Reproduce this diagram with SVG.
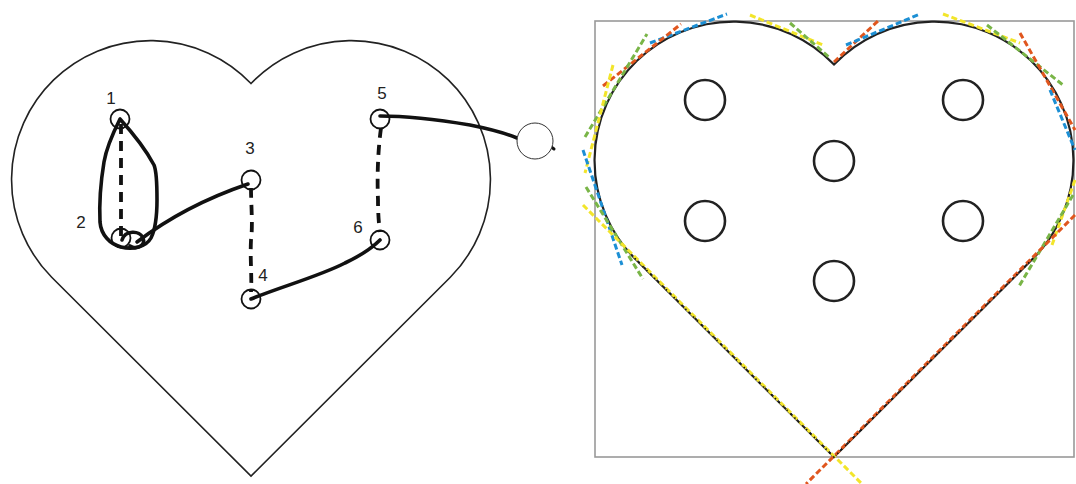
<svg xmlns="http://www.w3.org/2000/svg" width="1076" height="484" viewBox="0 0 1076 484">
<style>
.heart{fill:#fff;stroke:#222;stroke-width:1.6}
.heart2{fill:#fff;stroke:#222;stroke-width:2.2}
.node{fill:none;stroke:#111;stroke-width:1.8}
.bigc{fill:none;stroke:#222;stroke-width:2.6}
.lbl{font-family:"Liberation Sans",Arial,sans-serif;font-size:17px;fill:#222;text-anchor:middle}
.solid{fill:none;stroke:#111;stroke-width:3.6;stroke-linecap:round;stroke-linejoin:round}
.dash{fill:none;stroke:#111;stroke-width:3.8;stroke-dasharray:10 7}
.t{fill:none;stroke-width:3;stroke-dasharray:6 3}
.b{stroke:#1c8fd4}.r{stroke:#e0561e}.g{stroke:#79b547}.y{stroke:#f2e52a}
</style>
<defs>
<path id="heartShape" d="M240 43.5 A139 139 0 1 0 40.7 237.3 L240 436 L439.3 237.3 A139 139 0 1 0 240 43.5 Z"/>
</defs>
<g id="left-heart">
<use href="#heartShape" class="heart" transform="translate(11,40)"/>
</g>
<g id="connectors">
<path class="solid" d="M120,119 C112,135 106,150 104,162 C101,180 99,200 100,222 C101,235 110,244 121,247 C133,250 146,247 151,238 C156,228 157,215 157,200 C157,185 157,172 154,165 C146,150 130,130 120,119 Z"/>
<path class="solid" d="M122,240 C125,230 140,230 143,238 C146,246 136,250 130,246"/>
<path class="solid" d="M137,242 C158,226 195,202 248,184"/>
<path class="solid" d="M251,299 C280,287 320,276 345,263 C362,255 372,248 380,240"/>
<path class="solid" d="M380,116 C410,116 440,120 470,125 C490,129 505,133 517,138"/>
<path class="solid" d="M550,146 L554,149" style="stroke-width:3"/>
<path class="dash" d="M121,124 L121,236"/>
<path class="dash" d="M251,188 C251,205 253,225 251,240 C250,260 252,275 251,292"/>
<path class="dash" d="M381,128 C378,150 377,175 378,200 C378,215 379,225 380,232"/>
</g>
<g id="node1"><circle class="node" cx="120" cy="119" r="9.5"/><text class="lbl" x="111" y="104">1</text></g>
<g id="node2"><circle class="node" cx="121" cy="238" r="9.5"/><text class="lbl" x="81" y="228">2</text></g>
<g id="node3"><circle class="node" cx="251" cy="180" r="9.5"/><text class="lbl" x="250" y="154">3</text></g>
<g id="node4"><circle class="node" cx="251" cy="299" r="9.5"/><text class="lbl" x="263" y="281">4</text></g>
<g id="node5"><circle class="node" cx="380" cy="119" r="9.5"/><text class="lbl" x="382" y="99">5</text></g>
<g id="node6"><circle class="node" cx="380" cy="240" r="9.5"/><text class="lbl" x="358" y="233">6</text></g>
<g id="outside-circle"><circle cx="535" cy="141" r="18" fill="#fff" stroke="#333" stroke-width="1"/></g>
<g id="right-figure">
<rect x="595" y="21" width="479" height="436" fill="#fff" stroke="#999" stroke-width="1.6"/>
<use href="#heartShape" class="heart2" transform="translate(594,21)"/>
<g id="tangents">
<line class="t b" x1="650" y1="43" x2="727" y2="14"/>
<line class="t r" x1="603" y1="86" x2="681" y2="24"/>
<line class="t g" x1="585" y1="137" x2="647" y2="34"/>
<line class="t y" x1="613" y1="65" x2="585" y2="173"/>
<line class="t b" x1="583" y1="150" x2="622" y2="265"/>
<line class="t g" x1="586" y1="187" x2="643" y2="279"/>
<line class="t y" x1="583" y1="205" x2="862" y2="484"/>
<line class="t y" x1="750" y1="15" x2="823" y2="45"/>
<line class="t g" x1="790" y1="23" x2="830" y2="58"/>
<line class="t r" x1="834" y1="62" x2="878" y2="21"/>
<line class="t b" x1="846" y1="45" x2="920" y2="14"/>
<line class="t y" x1="943" y1="14" x2="1020" y2="43"/>
<line class="t g" x1="987" y1="25" x2="1063" y2="85"/>
<line class="t r" x1="1020" y1="33" x2="1075" y2="130"/>
<line class="t b" x1="1050" y1="90" x2="1075" y2="150"/>
<line class="t y" x1="1075" y1="180" x2="1052" y2="245"/>
<line class="t g" x1="1073" y1="195" x2="1018" y2="288"/>
<line class="t r" x1="1075" y1="215" x2="806" y2="484"/>
</g>
<path d="M634.7,258.3 L834,457 L1033.3,258.3" fill="none" stroke="#111" stroke-width="1.6" stroke-dasharray="1.5 4"/>
<g id="holes">
<circle class="bigc" cx="705" cy="100" r="20"/>
<circle class="bigc" cx="963" cy="100" r="20"/>
<circle class="bigc" cx="834" cy="161" r="20"/>
<circle class="bigc" cx="705" cy="221" r="20"/>
<circle class="bigc" cx="963" cy="221" r="20"/>
<circle class="bigc" cx="834" cy="281" r="20"/>
</g>
</g>
</svg>
